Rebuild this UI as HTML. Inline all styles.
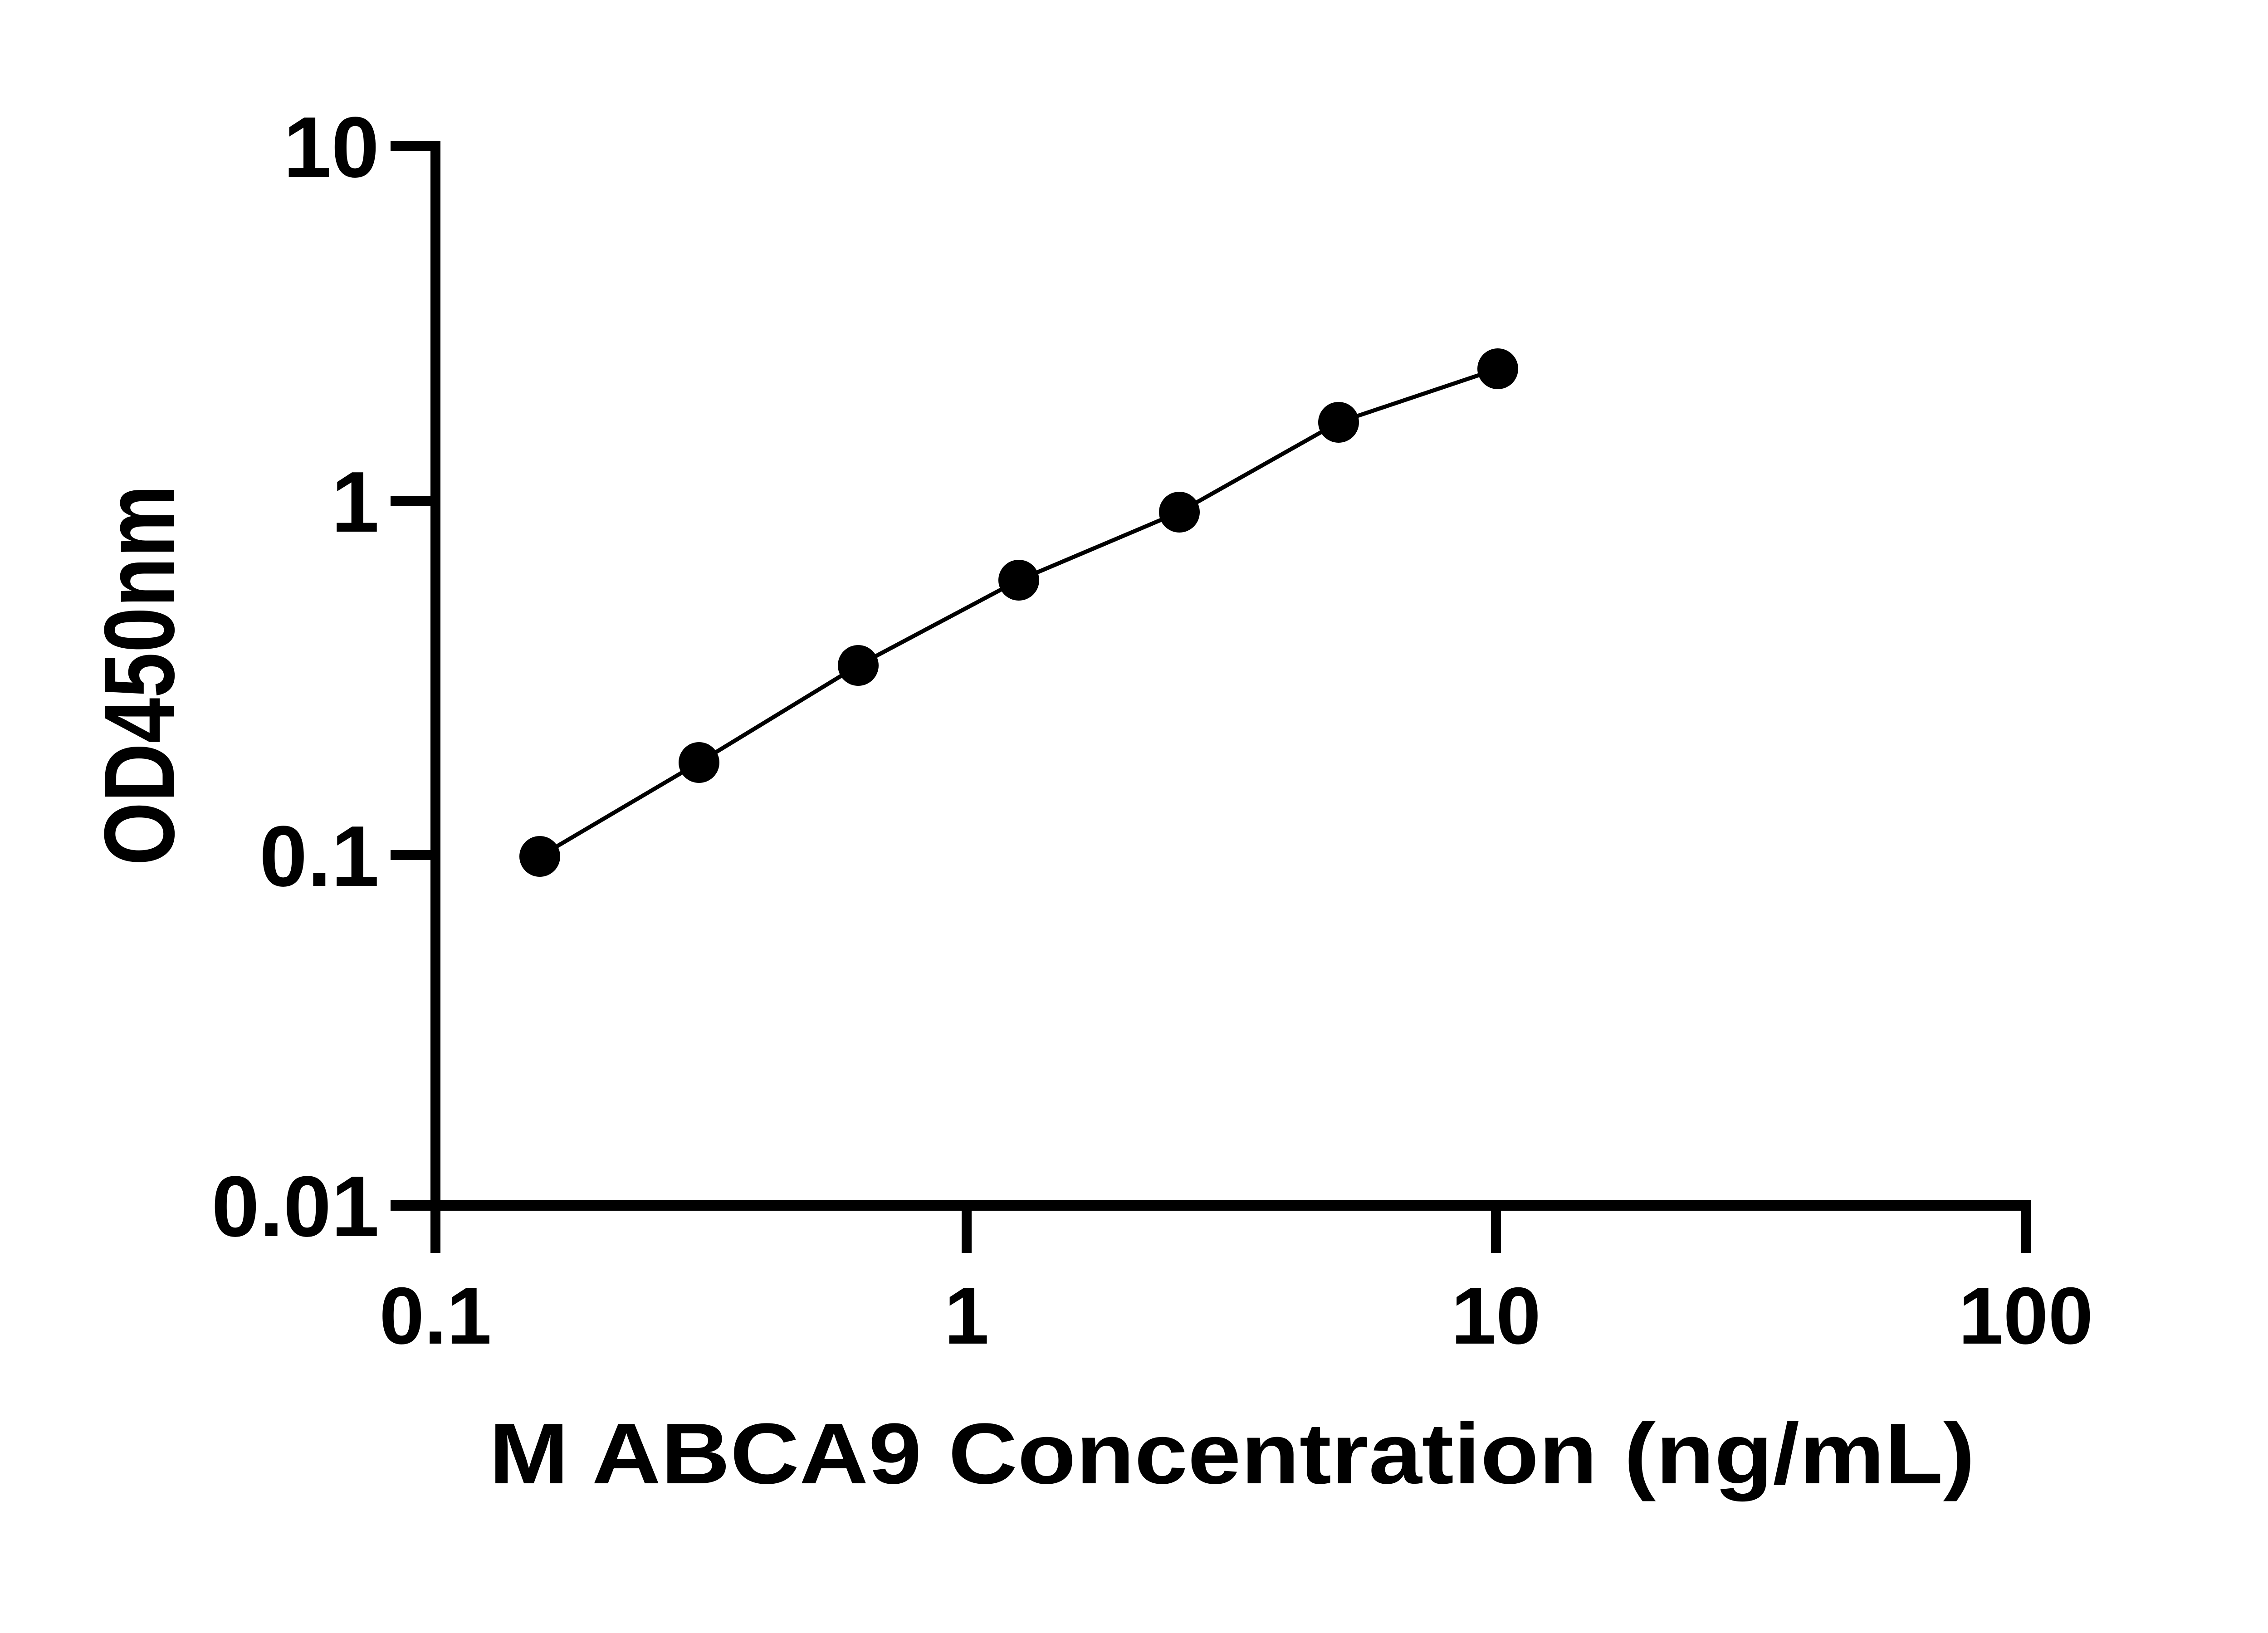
<!DOCTYPE html>
<html><head><meta charset="utf-8"><style>html,body{margin:0;padding:0;background:#fff}svg{display:block}</style></head>
<body>
<svg width="5142" height="3600" viewBox="0 0 5142 3600" xmlns="http://www.w3.org/2000/svg">
<rect width="5142" height="3600" fill="#fff"/>
<g stroke="#000" fill="none">
  <line x1="960" y1="311" x2="960" y2="2762" stroke-width="22"/>
  <line x1="949" y1="2657" x2="4477" y2="2657" stroke-width="24"/>
  <line x1="861" y1="322" x2="971" y2="322" stroke-width="22"/>
  <line x1="861" y1="1104" x2="960" y2="1104" stroke-width="22"/>
  <line x1="861" y1="1885" x2="960" y2="1885" stroke-width="22"/>
  <line x1="861" y1="2657" x2="960" y2="2657" stroke-width="24"/>
  <line x1="2131" y1="2657" x2="2131" y2="2762" stroke-width="22"/>
  <line x1="3298" y1="2657" x2="3298" y2="2762" stroke-width="22"/>
  <line x1="4466" y1="2645" x2="4466" y2="2762" stroke-width="22"/>
  <polyline stroke-width="9" stroke-linejoin="round" points="1190,1888 1541,1681 1892,1467 2246,1279 2600,1129 2951,931 3302,813"/>
</g>
<g fill="#000">
  <circle cx="1190" cy="1888" r="45"/>
  <circle cx="1541" cy="1681" r="45"/>
  <circle cx="1892" cy="1467" r="45"/>
  <circle cx="2246" cy="1279" r="45"/>
  <circle cx="2600" cy="1129" r="45"/>
  <circle cx="2951" cy="931" r="45"/>
  <circle cx="3302" cy="813" r="45"/>
</g>
<g font-family="Liberation Sans, Arial, sans-serif" font-weight="bold" font-size="190" fill="#000">
  <text x="836" y="390" text-anchor="end">10</text>
  <text x="836" y="1172" text-anchor="end">1</text>
  <text x="836" y="1953" text-anchor="end">0.1</text>
  <text x="836" y="2725" text-anchor="end">0.01</text>
  <text x="960" y="2962" text-anchor="middle" font-size="178">0.1</text>
  <text x="2131" y="2962" text-anchor="middle" font-size="178">1</text>
  <text x="3298" y="2962" text-anchor="middle" font-size="178">10</text>
  <text x="4466" y="2962" text-anchor="middle" font-size="178">100</text>
  <text x="1078" y="3270" font-size="190" textLength="3276" lengthAdjust="spacingAndGlyphs">M ABCA9 Concentration (ng/mL)</text>
  <text transform="translate(383,1908) rotate(-90)" font-size="220" textLength="839" lengthAdjust="spacingAndGlyphs">OD450nm</text>
</g>
</svg>
</body></html>
